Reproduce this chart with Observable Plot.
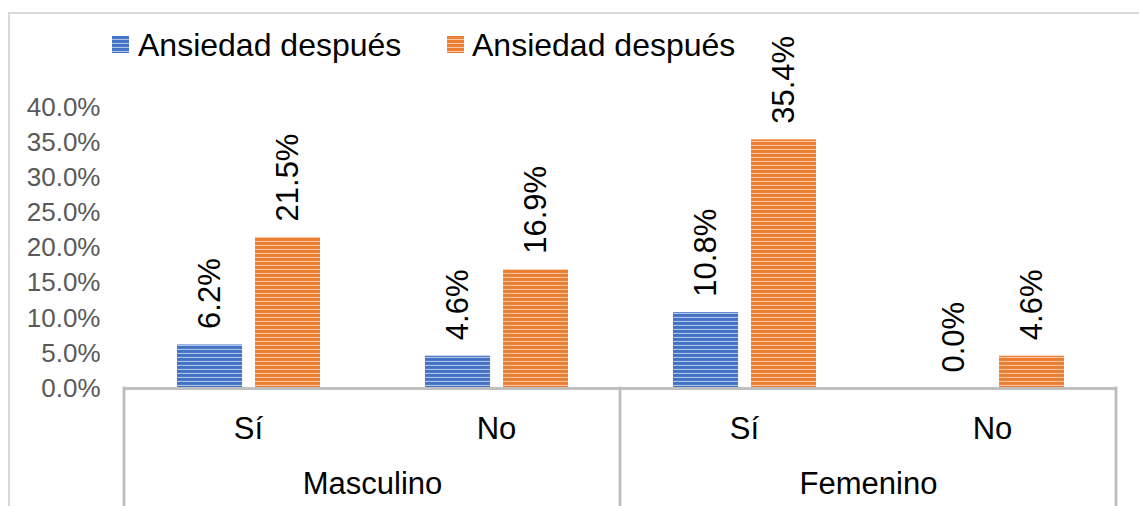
<!DOCTYPE html>
<html><head><meta charset="utf-8">
<script src="https://cdn.jsdelivr.net/npm/d3@7"></script>
<script src="https://cdn.jsdelivr.net/npm/@observablehq/plot@0.6"></script>
<style>
body{margin:0;background:#fff;font-family:"Liberation Sans",Arial,sans-serif}
#wrap{position:relative;width:1139px;height:506px;overflow:hidden;background:#fff}
#frame{position:absolute;left:8px;top:12px;width:1200px;height:600px;border:2px solid #d9d9d9;box-sizing:border-box;pointer-events:none}
.leg{position:absolute;top:29px;font-size:32px;line-height:32px;color:#000;white-space:nowrap}
.sw{position:absolute;top:36px;width:17px;height:17px}
#chart{position:absolute;left:0;top:70px}
</style></head><body>
<svg width="0" height="0" style="position:absolute">
<defs>
<pattern id="pat-blue" patternUnits="userSpaceOnUse" width="8" height="4">
<rect width="8" height="4" fill="#4472C4"/><rect y="2.9" width="8" height="1.1" fill="#AFC3E8"/>
</pattern>
<pattern id="pat-orange" patternUnits="userSpaceOnUse" width="8" height="4">
<rect width="8" height="4" fill="#ED7D31"/><rect y="2.9" width="8" height="1.1" fill="#F8C6A3"/>
</pattern>
</defs>
</svg>
<div id="wrap"><div id="frame"></div><div id="legend"></div><div id="chart"></div></div>
<script>
const genders = ["Masculino", "Femenino"];
const subcategories = ["Sí", "No"];
const seriesLabels = ["Ansiedad después", "Ansiedad después"];
const seriesKeys = ["s0", "s1"];
const blueValues = [6.2, 4.6, 10.8, 0.0];
const orangeValues = [21.5, 16.9, 35.4, 4.6];
const yTicks = [0, 5, 10, 15, 20, 25, 30, 35, 40];

const keys = [];
const rows = [];
const subRows = [];
const genderRows = [];
genders.forEach((g, gi) => {
  subcategories.forEach((s, si) => {
    const key = g + " · " + s;
    const k = gi * subcategories.length + si;
    keys.push(key);
    subRows.push({key, sub: s});
    if (si === 0) genderRows.push({key, gender: g});
    rows.push({key, gender: g, sub: s, series: seriesKeys[0], value: blueValues[k]});
    rows.push({key, gender: g, sub: s, series: seriesKeys[1], value: orangeValues[k]});
  });
});

// legend
const fills = ["url(#pat-blue)", "url(#pat-orange)"];
const legendPos = [[112, 138], [447, 472]];
const legend = document.getElementById("legend");
seriesLabels.forEach((lab, i) => {
  const sw = document.createElementNS("http://www.w3.org/2000/svg", "svg");
  sw.setAttribute("class", "sw");
  sw.style.left = legendPos[i][0] + "px";
  sw.innerHTML = `<rect width="17" height="17" fill="${fills[i]}"/>`;
  legend.appendChild(sw);
  const t = document.createElement("div");
  t.className = "leg";
  t.style.left = legendPos[i][1] + "px";
  t.textContent = lab;
  legend.appendChild(t);
});

const fmt = d => d.toFixed(1) + "%";
const H = 436;
const plot = Plot.plot({
  width: 1139,
  height: H,
  marginTop: 37,
  marginBottom: 118,
  marginLeft: 124,
  marginRight: 23,
  style: {background: "transparent", fontFamily: "Liberation Sans, Arial, sans-serif", overflow: "visible"},
  fx: {domain: keys, padding: 0, axis: null, label: null},
  x: {domain: seriesKeys, paddingInner: 0.1667, paddingOuter: 0.673, axis: null},
  y: {domain: [0, 40], axis: null},
  marks: [
    Plot.axisY(yTicks, {tickSize: 0, tickPadding: 24, tickFormat: fmt, fontSize: 26, fill: "#595959", label: null}),
    Plot.barY(rows.filter(d => d.series === seriesKeys[0]), {fx: "key", x: "series", y: "value", fill: fills[0]}),
    Plot.barY(rows.filter(d => d.series === seriesKeys[1]), {fx: "key", x: "series", y: "value", fill: fills[1]}),
    Plot.ruleY([0], {stroke: "#bfbfbf", strokeWidth: 3}),
    Plot.text(rows, {fx: "key", x: "series", y: "value", text: d => fmt(d.value), rotate: -90, textAnchor: "start", dy: -16, fontSize: 31, fill: "#000"}),
    Plot.text(subRows, {fx: "key", text: "sub", frameAnchor: "bottom", dy: 50, fontSize: 31, fill: "#000"}),
    Plot.text(genderRows, {fx: "key", text: "gender", frameAnchor: "bottom-right", textAnchor: "middle", dy: 105, fontSize: 31, fill: "#000"})
  ]
});

// separators of the two-level category axis, positioned from the facet scale
const fxS = plot.scale("fx"), yS = plot.scale("y");
const bw = fxS.bandwidth != null ? fxS.bandwidth : (fxS.range[1] - fxS.range[0]) / keys.length;
const sepX = [fxS.apply(keys[0]), fxS.apply(keys[subcategories.length]), fxS.apply(keys[keys.length - 1]) + bw];
d3.select(plot).append("g").attr("aria-label", "separators")
  .selectAll("line").data(sepX).join("line")
  .attr("x1", d => d).attr("x2", d => d)
  .attr("y1", yS.apply(0) - 1.5).attr("y2", H)
  .attr("stroke", "#bfbfbf").attr("stroke-width", 3);

document.getElementById("chart").appendChild(plot);
</script>
</body></html>
